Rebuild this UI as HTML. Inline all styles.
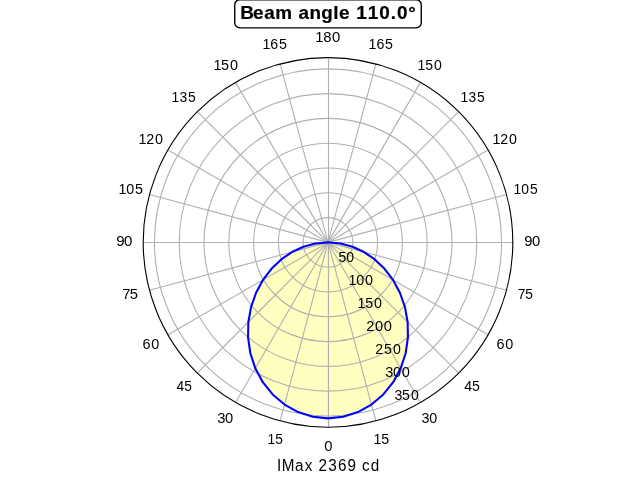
<!DOCTYPE html>
<html><head><meta charset="utf-8"><style>
html,body{margin:0;padding:0;background:#fff;}
body{width:640px;height:480px;overflow:hidden;}
svg{display:block;font-family:"Liberation Sans",sans-serif;will-change:transform;}
</style></head><body>
<svg width="640" height="480" viewBox="0 0 640 480">
<polygon points="328,242.4 328,242.4 328,242.4 328,242.4 328,242.4 328,242.4 328,242.4 328,242.4 328,242.4 328,242.4 328,242.4 328,242.4 328,242.4 328,242.4 328,242.4 328,242.4 328,242.4 328,242.4 328,242.4 315.61,243.48 303.48,246.72 291.98,252.05 281.23,259.42 271.47,268.76 262.97,279.94 256.08,292.76 251.11,306.92 248.36,322.04 248.07,337.66 250.37,353.27 255.31,368.31 262.8,382.22 272.65,394.47 284.55,404.56 298.08,412.08 312.75,416.72 328,418.4 343.25,416.72 357.92,412.08 371.45,404.56 383.35,394.47 393.2,382.22 400.69,368.31 405.63,353.27 407.93,337.66 407.64,322.04 404.89,306.92 399.92,292.76 393.03,279.94 384.53,268.76 374.77,259.42 364.02,252.05 352.52,246.72 340.39,243.48 328,242.4 328,242.4 328,242.4 328,242.4 328,242.4 328,242.4 328,242.4 328,242.4 328,242.4 328,242.4 328,242.4 328,242.4 328,242.4 328,242.4 328,242.4 328,242.4 328,242.4 328,242.4 328,242.4" fill="#ffffbf" stroke="none"/>
<rect x="327" y="243.6" width="1" height="173.8" fill="#ffff80"/>
<circle cx="328.0" cy="242.4" r="24.8" fill="none" stroke="#b0b0b0" stroke-width="1.111"/>
<circle cx="328.0" cy="242.4" r="49.59" fill="none" stroke="#b0b0b0" stroke-width="1.111"/>
<circle cx="328.0" cy="242.4" r="74.39" fill="none" stroke="#b0b0b0" stroke-width="1.111"/>
<circle cx="328.0" cy="242.4" r="99.18" fill="none" stroke="#b0b0b0" stroke-width="1.111"/>
<circle cx="328.0" cy="242.4" r="123.98" fill="none" stroke="#b0b0b0" stroke-width="1.111"/>
<circle cx="328.0" cy="242.4" r="148.77" fill="none" stroke="#b0b0b0" stroke-width="1.111"/>
<circle cx="328.0" cy="242.4" r="173.57" fill="none" stroke="#b0b0b0" stroke-width="1.111"/>
<line x1="328.5" y1="242.5" x2="328.5" y2="427.5" stroke="#b0b0b0" stroke-width="1.111"/>
<line x1="328" y1="242.4" x2="375.83" y2="420.9" stroke="#b0b0b0" stroke-width="1.111"/>
<line x1="328" y1="242.4" x2="420.4" y2="402.44" stroke="#b0b0b0" stroke-width="1.111"/>
<line x1="328" y1="242.4" x2="458.67" y2="373.07" stroke="#b0b0b0" stroke-width="1.111"/>
<line x1="328" y1="242.4" x2="488.04" y2="334.8" stroke="#b0b0b0" stroke-width="1.111"/>
<line x1="328" y1="242.4" x2="506.5" y2="290.23" stroke="#b0b0b0" stroke-width="1.111"/>
<line x1="328.5" y1="242.5" x2="513.5" y2="242.5" stroke="#b0b0b0" stroke-width="1.111"/>
<line x1="328" y1="242.4" x2="506.5" y2="194.57" stroke="#b0b0b0" stroke-width="1.111"/>
<line x1="328" y1="242.4" x2="488.04" y2="150" stroke="#b0b0b0" stroke-width="1.111"/>
<line x1="328" y1="242.4" x2="458.67" y2="111.73" stroke="#b0b0b0" stroke-width="1.111"/>
<line x1="328" y1="242.4" x2="420.4" y2="82.36" stroke="#b0b0b0" stroke-width="1.111"/>
<line x1="328" y1="242.4" x2="375.83" y2="63.9" stroke="#b0b0b0" stroke-width="1.111"/>
<line x1="328.5" y1="242.5" x2="328.5" y2="58.5" stroke="#b0b0b0" stroke-width="1.111"/>
<line x1="328" y1="242.4" x2="280.17" y2="63.9" stroke="#b0b0b0" stroke-width="1.111"/>
<line x1="328" y1="242.4" x2="235.6" y2="82.36" stroke="#b0b0b0" stroke-width="1.111"/>
<line x1="328" y1="242.4" x2="197.33" y2="111.73" stroke="#b0b0b0" stroke-width="1.111"/>
<line x1="328" y1="242.4" x2="167.96" y2="150" stroke="#b0b0b0" stroke-width="1.111"/>
<line x1="328" y1="242.4" x2="149.5" y2="194.57" stroke="#b0b0b0" stroke-width="1.111"/>
<line x1="328.5" y1="242.5" x2="143.5" y2="242.5" stroke="#b0b0b0" stroke-width="1.111"/>
<line x1="328" y1="242.4" x2="149.5" y2="290.23" stroke="#b0b0b0" stroke-width="1.111"/>
<line x1="328" y1="242.4" x2="167.96" y2="334.8" stroke="#b0b0b0" stroke-width="1.111"/>
<line x1="328" y1="242.4" x2="197.33" y2="373.07" stroke="#b0b0b0" stroke-width="1.111"/>
<line x1="328" y1="242.4" x2="235.6" y2="402.44" stroke="#b0b0b0" stroke-width="1.111"/>
<line x1="328" y1="242.4" x2="280.17" y2="420.9" stroke="#b0b0b0" stroke-width="1.111"/>
<polyline points="328,242.4 328,242.4 328,242.4 328,242.4 328,242.4 328,242.4 328,242.4 328,242.4 328,242.4 328,242.4 328,242.4 328,242.4 328,242.4 328,242.4 328,242.4 328,242.4 328,242.4 328,242.4 328,242.4 315.61,243.48 303.48,246.72 291.98,252.05 281.23,259.42 271.47,268.76 262.97,279.94 256.08,292.76 251.11,306.92 248.36,322.04 248.07,337.66 250.37,353.27 255.31,368.31 262.8,382.22 272.65,394.47 284.55,404.56 298.08,412.08 312.75,416.72 328,418.4 343.25,416.72 357.92,412.08 371.45,404.56 383.35,394.47 393.2,382.22 400.69,368.31 405.63,353.27 407.93,337.66 407.64,322.04 404.89,306.92 399.92,292.76 393.03,279.94 384.53,268.76 374.77,259.42 364.02,252.05 352.52,246.72 340.39,243.48 328,242.4 328,242.4 328,242.4 328,242.4 328,242.4 328,242.4 328,242.4 328,242.4 328,242.4 328,242.4 328,242.4 328,242.4 328,242.4 328,242.4 328,242.4 328,242.4 328,242.4 328,242.4 328,242.4" fill="none" stroke="#0000ff" stroke-width="2.083" stroke-linejoin="round" stroke-linecap="square"/>
<circle cx="328.0" cy="242.4" r="184.8" fill="none" stroke="#000" stroke-width="1.111"/>
<rect x="234.75" y="-0.18" width="186.5" height="28" rx="5" ry="5" fill="#fff" stroke="#000" stroke-width="1.389"/>
<text transform="translate(324.21,450.64) scale(1.0450,1)" font-size="14.14">0</text>
<text transform="translate(373.61,443.68) scale(1.0096,1)" font-size="14.14">1</text>
<text transform="translate(381.25,443.68) scale(1.0096,1)" font-size="14.14">5</text>
<text transform="translate(421.52,423.28) scale(1.0086,1)" font-size="14.14">3</text>
<text transform="translate(429.13,423.28) scale(1.0086,1)" font-size="14.14">0</text>
<text transform="translate(464.13,390.82) scale(1.0008,1)" font-size="14.14">4</text>
<text transform="translate(472.01,390.82) scale(1.0008,1)" font-size="14.14">5</text>
<text transform="translate(496.47,348.52) scale(1.0200,1)" font-size="14.14">6</text>
<text transform="translate(505.28,348.52) scale(1.0200,1)" font-size="14.14">0</text>
<text transform="translate(517.68,299.26) scale(0.9735,1)" font-size="14.14">7</text>
<text transform="translate(525.28,299.26) scale(0.9735,1)" font-size="14.14">5</text>
<text transform="translate(524.25,246.4) scale(1.0498,1)" font-size="14.14">9</text>
<text transform="translate(531.93,246.4) scale(1.0498,1)" font-size="14.14">0</text>
<text transform="translate(513.62,193.54) scale(0.9831,1)" font-size="14.14">1</text>
<text transform="translate(521.16,193.54) scale(0.9831,1)" font-size="14.14">0</text>
<text transform="translate(529.93,193.54) scale(0.9831,1)" font-size="14.14">5</text>
<text transform="translate(492.38,144.28) scale(1.0036,1)" font-size="14.14">1</text>
<text transform="translate(500.2,144.28) scale(1.0036,1)" font-size="14.14">2</text>
<text transform="translate(509.05,144.28) scale(1.0036,1)" font-size="14.14">0</text>
<text transform="translate(460.61,101.98) scale(0.9818,1)" font-size="14.14">1</text>
<text transform="translate(468.62,101.98) scale(0.9818,1)" font-size="14.14">3</text>
<text transform="translate(477.07,101.98) scale(0.9818,1)" font-size="14.14">5</text>
<text transform="translate(417.5,69.52) scale(0.9949,1)" font-size="14.14">1</text>
<text transform="translate(425.29,69.52) scale(0.9949,1)" font-size="14.14">5</text>
<text transform="translate(433.88,69.52) scale(0.9949,1)" font-size="14.14">0</text>
<text transform="translate(368.58,49.12) scale(1.0070,1)" font-size="14.14">1</text>
<text transform="translate(376.59,49.12) scale(1.0070,1)" font-size="14.14">6</text>
<text transform="translate(385.05,49.12) scale(1.0070,1)" font-size="14.14">5</text>
<text transform="translate(315.25,42.16) scale(1.0480,1)" font-size="14.14">1</text>
<text transform="translate(323.26,42.16) scale(1.0480,1)" font-size="14.14">8</text>
<text transform="translate(332.08,42.16) scale(1.0480,1)" font-size="14.14">0</text>
<text transform="translate(262.54,49.12) scale(1.0107,1)" font-size="14.14">1</text>
<text transform="translate(270.25,49.12) scale(1.0107,1)" font-size="14.14">6</text>
<text transform="translate(279.01,49.12) scale(1.0107,1)" font-size="14.14">5</text>
<text transform="translate(213.59,69.52) scale(1.0230,1)" font-size="14.14">1</text>
<text transform="translate(220.94,69.52) scale(1.0230,1)" font-size="14.14">5</text>
<text transform="translate(230.12,69.52) scale(1.0230,1)" font-size="14.14">0</text>
<text transform="translate(171.47,101.98) scale(0.9810,1)" font-size="14.14">1</text>
<text transform="translate(179.48,101.98) scale(0.9810,1)" font-size="14.14">3</text>
<text transform="translate(187.93,101.98) scale(0.9810,1)" font-size="14.14">5</text>
<text transform="translate(138.57,144.28) scale(1.0156,1)" font-size="14.14">1</text>
<text transform="translate(146.24,144.28) scale(1.0156,1)" font-size="14.14">2</text>
<text transform="translate(155.09,144.28) scale(1.0156,1)" font-size="14.14">0</text>
<text transform="translate(118.48,193.54) scale(1.0099,1)" font-size="14.14">1</text>
<text transform="translate(126.18,193.54) scale(1.0099,1)" font-size="14.14">0</text>
<text transform="translate(134.95,193.54) scale(1.0099,1)" font-size="14.14">5</text>
<text transform="translate(116.3,246.4) scale(1.0656,1)" font-size="14.14">9</text>
<text transform="translate(123.98,246.4) scale(1.0656,1)" font-size="14.14">0</text>
<text transform="translate(122.22,299.26) scale(1.0471,1)" font-size="14.14">7</text>
<text transform="translate(129.82,299.26) scale(1.0471,1)" font-size="14.14">5</text>
<text transform="translate(142.41,348.52) scale(1.0200,1)" font-size="14.14">6</text>
<text transform="translate(151.22,348.52) scale(1.0200,1)" font-size="14.14">0</text>
<text transform="translate(176.59,390.82) scale(0.9743,1)" font-size="14.14">4</text>
<text transform="translate(184.17,390.82) scale(0.9743,1)" font-size="14.14">5</text>
<text transform="translate(217.15,423.28) scale(1.0417,1)" font-size="14.14">3</text>
<text transform="translate(225.06,423.28) scale(1.0417,1)" font-size="14.14">0</text>
<text transform="translate(267.42,443.68) scale(0.9767,1)" font-size="14.14">1</text>
<text transform="translate(275.35,443.68) scale(0.9767,1)" font-size="14.14">5</text>
<text transform="translate(338.54,262.31) scale(0.9884,1)" font-size="14.14">5</text>
<text transform="translate(346.23,262.31) scale(0.9884,1)" font-size="14.14">0</text>
<text transform="translate(348.5,285.22) scale(1.0188,1)" font-size="14.14">1</text>
<text transform="translate(356.2,285.22) scale(1.0188,1)" font-size="14.14">0</text>
<text transform="translate(365.03,285.22) scale(1.0188,1)" font-size="14.14">0</text>
<text transform="translate(357.42,308.12) scale(1.0113,1)" font-size="14.14">1</text>
<text transform="translate(365.21,308.12) scale(1.0113,1)" font-size="14.14">5</text>
<text transform="translate(373.94,308.12) scale(1.0113,1)" font-size="14.14">0</text>
<text transform="translate(366.26,331.03) scale(1.0359,1)" font-size="14.14">2</text>
<text transform="translate(375.11,331.03) scale(1.0359,1)" font-size="14.14">0</text>
<text transform="translate(383.64,331.03) scale(1.0359,1)" font-size="14.14">0</text>
<text transform="translate(375.15,353.94) scale(0.9980,1)" font-size="14.14">2</text>
<text transform="translate(384.09,353.94) scale(0.9980,1)" font-size="14.14">5</text>
<text transform="translate(392.97,353.94) scale(0.9980,1)" font-size="14.14">0</text>
<text transform="translate(385.14,376.85) scale(1.0329,1)" font-size="14.14">3</text>
<text transform="translate(392.9,376.85) scale(1.0329,1)" font-size="14.14">0</text>
<text transform="translate(401.73,376.85) scale(1.0329,1)" font-size="14.14">0</text>
<text transform="translate(394.62,399.76) scale(0.9957,1)" font-size="14.14">3</text>
<text transform="translate(401.88,399.76) scale(0.9957,1)" font-size="14.14">5</text>
<text transform="translate(411.06,399.76) scale(0.9957,1)" font-size="14.14">0</text>
<text transform="translate(240.13,18.82) scale(1.0733,1)" font-size="17.6" font-weight="bold" stroke="#000" stroke-width="0.2">B</text>
<text transform="translate(253,18.82) scale(1.0733,1)" font-size="17.6" font-weight="bold" stroke="#000" stroke-width="0.2">e</text>
<text transform="translate(264.3,18.82) scale(1.0733,1)" font-size="17.6" font-weight="bold" stroke="#000" stroke-width="0.2">a</text>
<text transform="translate(275.17,18.82) scale(1.0733,1)" font-size="17.6" font-weight="bold" stroke="#000" stroke-width="0.2">m</text>
<text transform="translate(298.48,18.82) scale(1.0733,1)" font-size="17.6" font-weight="bold" stroke="#000" stroke-width="0.2">a</text>
<text transform="translate(309.4,18.82) scale(1.0733,1)" font-size="17.6" font-weight="bold" stroke="#000" stroke-width="0.2">n</text>
<text transform="translate(321.17,18.82) scale(1.0733,1)" font-size="17.6" font-weight="bold" stroke="#000" stroke-width="0.2">g</text>
<text transform="translate(333.21,18.82) scale(1.0733,1)" font-size="17.6" font-weight="bold" stroke="#000" stroke-width="0.2">l</text>
<text transform="translate(338.96,18.82) scale(1.0733,1)" font-size="17.6" font-weight="bold" stroke="#000" stroke-width="0.2">e</text>
<text transform="translate(356.31,18.82) scale(1.0733,1)" font-size="17.6" font-weight="bold" stroke="#000" stroke-width="0.2">1</text>
<text transform="translate(367.72,18.82) scale(1.0733,1)" font-size="17.6" font-weight="bold" stroke="#000" stroke-width="0.2">1</text>
<text transform="translate(379.26,18.82) scale(1.0733,1)" font-size="17.6" font-weight="bold" stroke="#000" stroke-width="0.2">0</text>
<text transform="translate(390.68,18.82) scale(1.0733,1)" font-size="17.6" font-weight="bold" stroke="#000" stroke-width="0.2">.</text>
<text transform="translate(396.99,18.82) scale(1.0733,1)" font-size="17.6" font-weight="bold" stroke="#000" stroke-width="0.2">0</text>
<text transform="translate(408.23,18.82) scale(1.0733,1)" font-size="17.6" font-weight="bold" stroke="#000" stroke-width="0.2">°</text>
<text transform="translate(276.88,471.2) scale(0.9526,1)" font-size="16.0">I</text>
<text transform="translate(281.78,471.2) scale(0.9526,1)" font-size="16.0">M</text>
<text transform="translate(294.88,471.2) scale(0.9526,1)" font-size="16.0">a</text>
<text transform="translate(304.73,471.2) scale(0.9526,1)" font-size="16.0">x</text>
<text transform="translate(318.48,471.2) scale(0.9526,1)" font-size="16.0">2</text>
<text transform="translate(328.26,471.2) scale(0.9526,1)" font-size="16.0">3</text>
<text transform="translate(337.95,471.2) scale(0.9526,1)" font-size="16.0">6</text>
<text transform="translate(347.59,471.2) scale(0.9526,1)" font-size="16.0">9</text>
<text transform="translate(362.08,471.2) scale(0.9526,1)" font-size="16.0">c</text>
<text transform="translate(370.76,471.2) scale(0.9526,1)" font-size="16.0">d</text>
</svg>
</body></html>
